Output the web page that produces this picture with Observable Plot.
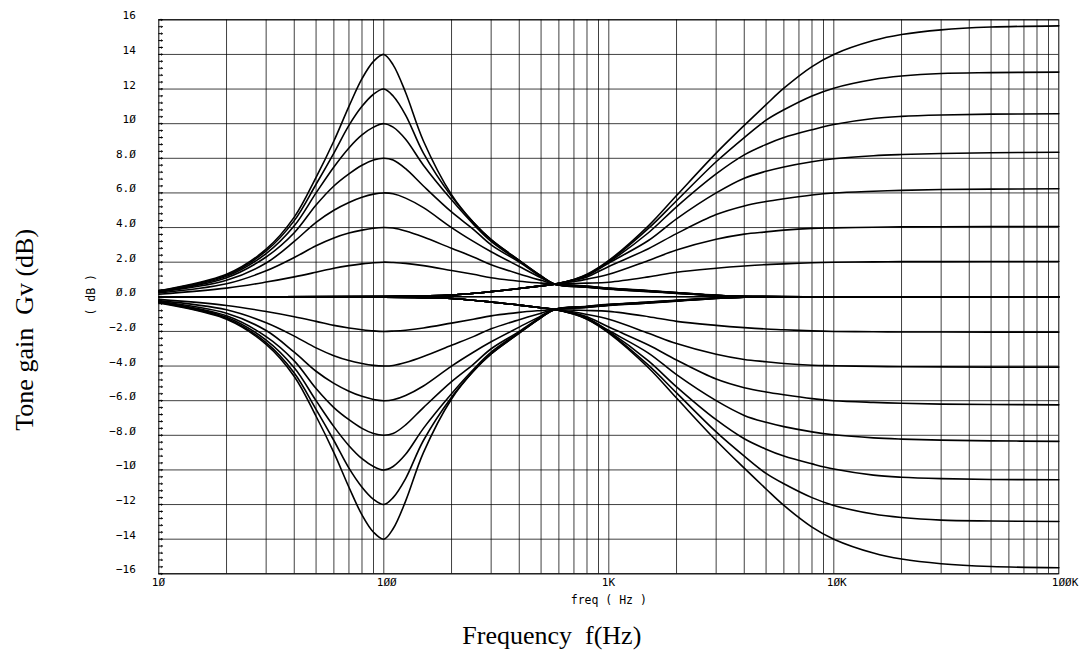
<!DOCTYPE html>
<html><head><meta charset="utf-8">
<script src="https://cdn.jsdelivr.net/npm/d3@7"></script>
<script src="https://cdn.jsdelivr.net/npm/@observablehq/plot@0.6"></script>
<style>
html,body{margin:0;padding:0;background:#fff;}
svg text{white-space:pre;}
</style></head><body><div id="chart"></div>
<script>
// ---- frequency grids (Hz) ----
const bassFreqs = [10,20,30,40,50,60,70,80,90,100,110,125,150,200,250,300,400,500,575,800,1000,1500,2000,3000,4000,10000,100000];
const trebleFreqs = [10,100,150,200,300,400,500,575,700,800,1000,1500,2000,3000,4000,5000,6000,8000,10000,15000,20000,30000,50000,100000];

// ---- bass (peaking at 100 Hz) curves, dB ----
const bassBoost14 = [0.35,1.3,2.75,4.6,6.9,9.0,11.0,12.6,13.6,14.0,13.4,11.8,9.0,5.9,4.3,3.3,2.1,1.2,0.73,0.55,0.44,0.3,0.2,0.07,0.02,0,0];
const bassBoost12 = [0.33,1.25,2.65,4.4,6.5,8.3,9.9,11.0,11.7,12.0,11.6,10.5,8.3,5.8,4.3,3.3,2.1,1.2,0.73,0.56,0.45,0.31,0.21,0.07,0.02,0,0];
const bassBoost10 = [0.31,1.18,2.5,4.1,6.0,7.5,8.6,9.35,9.8,10.0,9.8,9.1,7.6,5.6,4.2,3.2,2.05,1.2,0.73,0.57,0.46,0.32,0.22,0.08,0.02,0,0];
const bassBoost8  = [0.3,1.1,2.3,3.7,5.3,6.4,7.1,7.6,7.9,8.0,7.9,7.4,6.4,4.9,3.9,3.0,2.0,1.15,0.73,0.58,0.47,0.33,0.22,0.08,0.02,0,0];
const bassBoost6  = [0.27,0.95,1.95,3.2,4.3,5.0,5.45,5.75,5.93,6.0,5.95,5.7,5.15,4.0,3.2,2.6,1.75,1.1,0.73,0.59,0.48,0.34,0.23,0.08,0.02,0,0];
const bassBoost4  = [0.22,0.75,1.5,2.27,2.95,3.4,3.68,3.85,3.96,4.0,3.97,3.8,3.45,2.8,2.3,1.85,1.32,0.95,0.73,0.6,0.49,0.35,0.24,0.09,0.03,0,0];
const bassBoost2  = [0.15,0.5,0.85,1.15,1.42,1.65,1.8,1.9,1.97,2.0,1.98,1.93,1.8,1.52,1.3,1.1,0.9,0.79,0.73,0.62,0.5,0.36,0.25,0.09,0.03,0,0];
const bassFlat0   = [0,0,0,0,0,0,0,0,0,0,0,0,0,0,0,0,0,0,0,0,0,0,0,0,0,0,0];
const bassCut2  = [-0.15,-0.5,-0.85,-1.15,-1.42,-1.65,-1.8,-1.9,-1.97,-2.0,-1.98,-1.93,-1.8,-1.52,-1.3,-1.1,-0.9,-0.79,-0.73,-0.62,-0.5,-0.36,-0.25,-0.09,-0.03,0,0];
const bassCut4  = [-0.22,-0.75,-1.5,-2.27,-2.95,-3.4,-3.68,-3.85,-3.96,-4.0,-3.97,-3.8,-3.45,-2.8,-2.3,-1.85,-1.32,-0.95,-0.73,-0.6,-0.49,-0.35,-0.24,-0.09,-0.03,0,0];
const bassCut6  = [-0.27,-0.95,-1.95,-3.2,-4.3,-5.0,-5.45,-5.75,-5.93,-6.0,-5.95,-5.7,-5.15,-4.0,-3.2,-2.6,-1.75,-1.1,-0.73,-0.59,-0.48,-0.34,-0.23,-0.08,-0.02,0,0];
const bassCut8  = [-0.3,-1.1,-2.3,-3.7,-5.3,-6.4,-7.1,-7.6,-7.9,-8.0,-7.9,-7.4,-6.4,-4.9,-3.9,-3.0,-2.0,-1.15,-0.73,-0.58,-0.47,-0.33,-0.22,-0.08,-0.02,0,0];
const bassCut10 = [-0.31,-1.18,-2.5,-4.1,-6.0,-7.5,-8.6,-9.35,-9.8,-10.0,-9.8,-9.1,-7.6,-5.6,-4.2,-3.2,-2.05,-1.2,-0.73,-0.57,-0.46,-0.32,-0.22,-0.08,-0.02,0,0];
const bassCut12 = [-0.33,-1.25,-2.65,-4.4,-6.5,-8.3,-9.9,-11.0,-11.7,-12.0,-11.6,-10.5,-8.3,-5.8,-4.3,-3.3,-2.1,-1.2,-0.73,-0.56,-0.45,-0.31,-0.21,-0.07,-0.02,0,0];
const bassCut14 = [-0.35,-1.3,-2.75,-4.6,-6.9,-9.0,-11.0,-12.6,-13.6,-14.0,-13.4,-11.8,-9.0,-5.9,-4.3,-3.3,-2.1,-1.2,-0.73,-0.55,-0.44,-0.3,-0.2,-0.07,-0.02,0,0];

// ---- treble (high shelf) curves, dB ----
const trebleBoostA = [0,0.02,0.05,0.1,0.3,0.48,0.63,0.73,1.0,1.3,2.1,4.1,5.85,8.3,9.9,11.1,12.05,13.3,14.0,14.8,15.15,15.42,15.58,15.65];
const trebleBoostB = [0,0.02,0.05,0.1,0.3,0.48,0.63,0.73,1.0,1.28,2.05,3.95,5.55,7.8,9.2,10.2,10.8,11.6,12.05,12.55,12.75,12.9,12.95,12.98];
const trebleBoostC = [0,0.02,0.05,0.1,0.3,0.48,0.63,0.73,0.98,1.25,2.0,3.7,5.2,7.1,8.2,8.8,9.2,9.65,9.95,10.3,10.42,10.5,10.55,10.57];
const trebleBoostD = [0,0.02,0.05,0.1,0.3,0.48,0.63,0.73,0.97,1.22,1.95,3.25,4.5,6.0,6.85,7.25,7.5,7.8,7.97,8.15,8.22,8.28,8.32,8.35];
const trebleBoostE = [0,0.02,0.05,0.1,0.3,0.48,0.63,0.73,0.95,1.15,1.75,2.78,3.65,4.75,5.25,5.5,5.66,5.88,6.0,6.1,6.15,6.2,6.22,6.24];
const trebleBoostF = [0,0.02,0.05,0.1,0.3,0.48,0.63,0.73,0.88,1.02,1.3,2.1,2.7,3.32,3.62,3.75,3.85,3.95,3.98,4.02,4.04,4.05,4.06,4.06];
const trebleBoostG = [0,0.02,0.05,0.1,0.3,0.48,0.63,0.73,0.77,0.79,0.84,1.15,1.42,1.65,1.78,1.86,1.9,1.97,2.0,2.02,2.03,2.03,2.04,2.04];
const trebleCutG = [0,-0.02,-0.05,-0.1,-0.3,-0.48,-0.63,-0.73,-0.77,-0.79,-0.84,-1.15,-1.42,-1.65,-1.78,-1.86,-1.9,-1.97,-2.0,-2.02,-2.03,-2.03,-2.04,-2.04];
const trebleCutF = [0,-0.02,-0.05,-0.1,-0.3,-0.48,-0.63,-0.73,-0.88,-1.02,-1.3,-2.1,-2.7,-3.32,-3.62,-3.75,-3.85,-3.95,-3.98,-4.02,-4.04,-4.05,-4.06,-4.06];
const trebleCutE = [0,-0.02,-0.05,-0.1,-0.3,-0.48,-0.63,-0.73,-0.95,-1.15,-1.75,-2.78,-3.65,-4.75,-5.25,-5.5,-5.66,-5.88,-6.0,-6.1,-6.15,-6.2,-6.22,-6.24];
const trebleCutD = [0,-0.02,-0.05,-0.1,-0.3,-0.48,-0.63,-0.73,-0.97,-1.22,-1.95,-3.25,-4.5,-6.0,-6.85,-7.25,-7.5,-7.8,-7.97,-8.15,-8.22,-8.28,-8.32,-8.35];
const trebleCutC = [0,-0.02,-0.05,-0.1,-0.3,-0.48,-0.63,-0.73,-0.98,-1.25,-2.0,-3.7,-5.2,-7.1,-8.2,-8.8,-9.2,-9.65,-9.95,-10.3,-10.42,-10.5,-10.55,-10.57];
const trebleCutB = [0,-0.02,-0.05,-0.1,-0.3,-0.48,-0.63,-0.73,-1.0,-1.28,-2.05,-3.95,-5.55,-7.8,-9.2,-10.2,-10.8,-11.6,-12.05,-12.55,-12.75,-12.9,-12.95,-12.98];
const trebleCutA = [0,-0.02,-0.05,-0.1,-0.3,-0.48,-0.63,-0.73,-1.0,-1.3,-2.1,-4.1,-5.85,-8.3,-9.9,-11.1,-12.05,-13.3,-14.0,-14.8,-15.15,-15.42,-15.58,-15.65];

// ---- axis ticks and labels ----
const xLabelTicks = [10,100,1000,10000,100000];
const xLabelTexts = ["1Ø","1ØØ","1K","1ØK","1ØØK"];
const xGridTicks = [20,30,40,50,60,70,80,90,100,200,300,400,500,600,700,800,900,1000,2000,3000,4000,5000,6000,7000,8000,9000,10000,20000,30000,40000,50000,60000,70000,80000,90000];
const yTicks = [16,14,12,10,8,6,4,2,0,-2,-4,-6,-8,-10,-12,-14,-16];
const yLabelTexts = ["16","14","12","1Ø","8.Ø","6.Ø","4.Ø","2.Ø","Ø.Ø","−2.Ø","−4.Ø","−6.Ø","−8.Ø","−1Ø","−12","−14","−16"];
const yMinorTicks = d3.range(-16, 16.001, 0.4).map(v => Math.round(v * 10) / 10);

// ---- assemble long table ----
const bassSeries = {bassBoost14,bassBoost12,bassBoost10,bassBoost8,bassBoost6,bassBoost4,bassBoost2,bassFlat0,bassCut2,bassCut4,bassCut6,bassCut8,bassCut10,bassCut12,bassCut14};
const trebleSeries = {trebleBoostA,trebleBoostB,trebleBoostC,trebleBoostD,trebleBoostE,trebleBoostF,trebleBoostG,trebleCutG,trebleCutF,trebleCutE,trebleCutD,trebleCutC,trebleCutB,trebleCutA};
const curves = [];
for (const [id, vals] of Object.entries(bassSeries)) vals.forEach((g, i) => curves.push({id, f: bassFreqs[i], g}));
for (const [id, vals] of Object.entries(trebleSeries)) vals.forEach((g, i) => curves.push({id, f: trebleFreqs[i], g}));

const yLabelMap = new Map(yTicks.map((t, i) => [t, yLabelTexts[i]]));
const xLabelMap = new Map(xLabelTicks.map((t, i) => [t, xLabelTexts[i]]));

const chart = Plot.plot({
  width: 1088,
  height: 652,
  marginLeft: 158.3,
  marginRight: 29.7,
  marginTop: 19.3,
  marginBottom: 78.7,
  x: {type: "log", domain: [10, 100000]},
  y: {domain: [-16, 16]},
  style: {background: "white", color: "black", fontFamily: "'DejaVu Sans Mono', monospace", fontSize: "11px"},
  marks: [
    Plot.gridX(xGridTicks, {stroke: "#000", strokeOpacity: 0.75, strokeWidth: 1}),
    Plot.gridY(yTicks, {stroke: "#000", strokeOpacity: 0.75, strokeWidth: 1}),
    Plot.frame({stroke: "#000", strokeWidth: 1}),
    Plot.vector(yMinorTicks, {y: d => d, frameAnchor: "left", length: 3.5, rotate: 90, anchor: "start", stroke: "#000", strokeWidth: 1}),
    Plot.axisY(yTicks, {tickSize: 0, tickPadding: 23, dy: -4, tickFormat: d => yLabelMap.get(d), label: null, fontSize: 11}),
    Plot.axisX(xLabelTicks, {tickSize: 0, tickPadding: 4, textAnchor: "start", dx: -7, tickFormat: d => xLabelMap.get(d), label: null, fontSize: 11}),
    Plot.line(curves, {x: "f", y: "g", z: "id", stroke: "#000", strokeWidth: 1.6, curve: "catmull-rom"}),
    Plot.text(["freq ( Hz )"], {frameAnchor: "bottom", dy: 30, fontSize: 11.5}),
    Plot.text(["( dB )"], {frameAnchor: "left", textAnchor: "middle", dx: -67, dy: -2, rotate: -90, fontSize: 11.5}),
    Plot.text(["Tone gain  Gv (dB)"], {frameAnchor: "left", textAnchor: "middle", dx: -134, dy: 33, rotate: -90, fontFamily: "'Liberation Serif', serif", fontSize: 26}),
    Plot.text(["Frequency  f(Hz)"], {frameAnchor: "bottom", dx: -57, dy: 70, fontFamily: "'Liberation Serif', serif", fontSize: 26})
  ]
});
document.getElementById("chart").appendChild(chart);
</script>
</body></html>
